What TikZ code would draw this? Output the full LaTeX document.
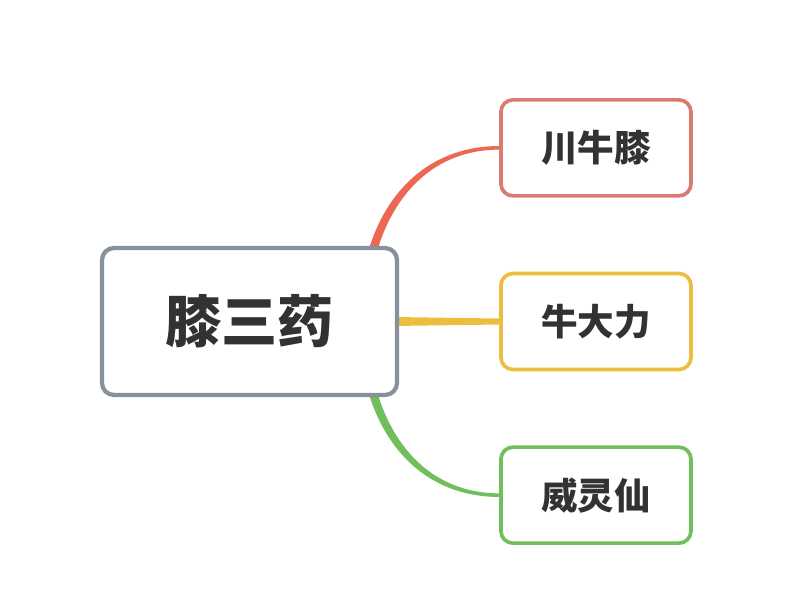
\documentclass[tikz,border=0pt]{standalone}
\usepackage{fontspec}
\newfontfamily\cjk{Noto Sans CJK SC}
\usepackage{tikz}
\usetikzlibrary{positioning,calc,backgrounds}
\definecolor{rootgray}{RGB}{135,145,155}
\definecolor{boxred}{RGB}{218,122,112}
\definecolor{branchred}{RGB}{236,104,84}
\definecolor{boxyellow}{RGB}{236,190,64}
\definecolor{boxgreen}{RGB}{112,190,92}
\definecolor{txt}{RGB}{50,50,50}

\begin{document}
\begin{tikzpicture} [
        topic/.style={draw, fill=white, rounded corners=0.3cm, line width=2.6pt,
          minimum width=4.75cm, minimum height=2.4cm, text=txt,
          font=\cjk\bfseries\fontsize{26}{30}\selectfont},
        node distance=1.85cm]
        \useasboundingbox (0,0) rectangle (19.7,14.775);
        \node[topic, draw=rootgray, line width=3pt, minimum width=7.375cm,
          minimum height=3.675cm, font=\cjk\bfseries\fontsize{40}{46}\selectfont]
          (main) at (6.2375,6.7375) {膝三药};
        \node[topic, draw=boxyellow, right=2.5cm of main] (niu) {牛大力};
        \node[topic, draw=boxred, above=of niu] (chuan) {川牛膝};
        \node[topic, draw=boxgreen, below=of niu] (wei) {威灵仙};
        % branches
        \begin{scope}[on background layer]
        \coordinate (top) at ($(main.north east)+(-0.62,0)$);
        \coordinate (bot) at ($(main.south east)+(-0.62,0)$);
        \fill[branchred] ($(top)+(-0.11,0)$) to[out=72,in=180] ($(chuan.west)+(0,0.045)$)
          -- ($(chuan.west)+(0,-0.045)$) to[out=180,in=72] ($(top)+(0.11,0)$) -- cycle;
        \fill[boxgreen] ($(bot)+(-0.11,0)$) to[out=-72,in=180] ($(wei.west)+(0,-0.045)$)
          -- ($(wei.west)+(0,0.045)$) to[out=180,in=-72] ($(bot)+(0.11,0)$) -- cycle;
        \fill[boxyellow] ($(main.east)+(0,0.11)$) -- ($(niu.west)+(0,0.075)$)
          -- ($(niu.west)+(0,-0.075)$) -- ($(main.east)+(0,-0.11)$) -- cycle;
        \end{scope}
      \end{tikzpicture}
\end{document}
